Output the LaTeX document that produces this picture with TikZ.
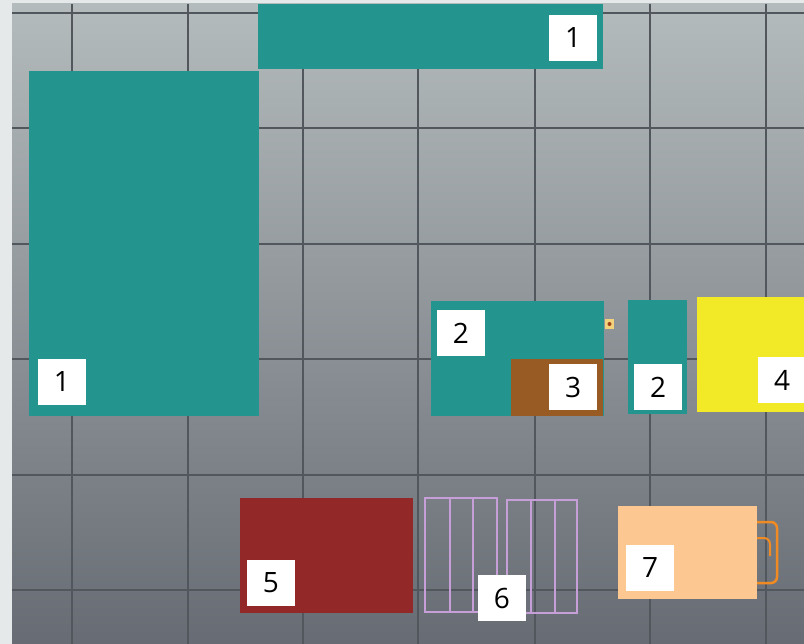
\documentclass[tikz,border=0pt]{standalone}
\usepackage{fontspec}
\setmainfont{Open Sans}
\usepackage{tikz}
\definecolor{Lagoon}{HTML}{24948F}
\definecolor{Rust}{HTML}{985B24}
\definecolor{Lemon}{HTML}{F2EA26}
\definecolor{Brick}{HTML}{922828}
\definecolor{Apricot}{HTML}{FDC792}
\definecolor{Lilac}{HTML}{C69FD8}
\definecolor{Amber}{HTML}{F08A22}
\definecolor{Gridline}{HTML}{52575D}
\definecolor{Frame}{HTML}{E5E9E9}
\definecolor{SkyTop}{HTML}{B4BBBC}
\definecolor{SkyBottom}{HTML}{676C74}
\definecolor{Socket}{HTML}{F2D27A}
\definecolor{SocketDot}{HTML}{A0401A}
\tikzset{
  lbl/.style={fill=white, inner sep=0pt, minimum width=48pt, minimum height=46pt,
    font=\fontsize{28}{30}\selectfont},
}

\begin{document}
\begin{tikzpicture}[x=1pt, y=-1pt]
        \useasboundingbox (0,0) rectangle (804,644);
        % Backdrop
        \fill[Frame] (0,0) rectangle (804,644);
        \shade[top color=SkyTop, bottom color=SkyBottom] (12,4) rectangle (804,644);
        \begin{scope}
          \clip (12,4) rectangle (804,644);
          \foreach \gx in {72, 188, 303, 418, 535, 650, 766}
            \draw[Gridline, line width=1.2pt] (\gx,4) -- (\gx,644);
          \foreach \gy in {13, 128, 244, 359, 475, 590}
            \draw[Gridline, line width=1.2pt] (12,\gy) -- (804,\gy);
        \end{scope}

        % Areas
        \fill[Lagoon] (258,4) rectangle (603,69);
        \fill[Lagoon] (29,71) rectangle (259,416);
        \fill[Lagoon] (431,301) rectangle (604,416);
        \fill[Rust] (511,359) rectangle (603,416);
        \fill[Lagoon] (628,300) rectangle (687,414);
        \fill[Lemon] (697,297) rectangle (804,412);
        \fill[Brick] (240,498) rectangle (413,613);
        \fill[Apricot] (618,506) rectangle (757,599);
        \fill[Socket] (605,319) rectangle (614,329);
        \fill[SocketDot] (609.5,324) circle (2);

        % Racks
        \draw[Lilac, line width=2.5pt] (425,498) rectangle (497,612);
        \draw[Lilac, line width=2.5pt] (450,498) -- (450,612);
        \draw[Lilac, line width=2.5pt] (473,498) -- (473,612);
        \draw[Lilac, line width=2.5pt] (507,500) rectangle (577,613);
        \draw[Lilac, line width=2.5pt] (531,500) -- (531,613);
        \draw[Lilac, line width=2.5pt] (555,500) -- (555,613);

        % Handle
        \draw[Amber, line width=2.5pt, rounded corners=6pt] (757,522) -- (777,522) -- (777,583) -- (757,583);
        \draw[Amber, line width=2pt, rounded corners=6pt] (757,538) -- (770,538) -- (770,556);

        % Labels
        \node[lbl] (top1) at (573,38) {1};
        \node[lbl] (big1) at (62,382) {1};
        \node[lbl] (mid2) at (461,333) {2};
        \node[lbl] (mid3) at (573,387) {3};
        \node[lbl] (side2) at (658,387) {2};
        \node[lbl] (yel4) at (782,380) {4};
        \node[lbl] (red5) at (271,583) {5};
        \node[lbl] (rack6) at (502,598) {6};
        \node[lbl] (peach7) at (650,568) {7};
\end{tikzpicture}
\end{document}
